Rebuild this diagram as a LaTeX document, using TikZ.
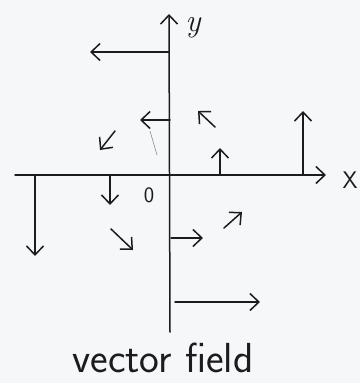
\documentclass[tikz,border=0pt]{standalone}
\usetikzlibrary{arrows.meta}
\definecolor{paper}{RGB}{246,247,249}
\definecolor{pen}{RGB}{28,28,30}
\begin{document}
\begin{tikzpicture}[x=1pt,y=-1pt,
  ink/.style={draw=pen,line width=1.5pt,line cap=round,line join=round},
  vec/.style={ink,-{Straight Barb[length=9pt,width=17pt,line width=1.5pt]}},
  lbl/.style={text=pen,inner sep=0pt}]
\fill[paper] (0,0) rectangle (360,383);
\useasboundingbox (0,0) rectangle (360,383);
% axes
\coordinate (xl) at (15,175);
\coordinate (xr) at (326,175);
\coordinate (yb) at (170,332);
\coordinate (yt) at (169,14);
\draw[vec] (xl) -- (xr);
\draw[vec] (yb) -- (yt);
\node[lbl,font=\fontsize{32}{32}\selectfont\itshape] (ylab) at (193,28) {y};
\node[lbl,font=\fontsize{24}{24}\selectfont\sffamily] (xlab) at (350,180) {X};
\node[lbl,font=\fontsize{22}{22}\selectfont\sffamily] (olab) at (149,195) {0};
% vectors above x-axis
\draw[vec] (169,52) -- (90,52);
\draw[vec] (170,120) -- (140,120);
\draw[draw=black!45,line width=0.6pt] (150,131) -- (157,155);
\draw[vec] (215,127) -- (198,111);
\draw[vec] (115,131) -- (100,150);
\draw[vec] (220,175) -- (220,148);
\draw[vec] (303,175) -- (303,111);
% vectors below x-axis
\draw[vec] (35,176) -- (35,256);
\draw[vec] (110,176) -- (110,205);
\draw[vec] (224,228) -- (242,212);
\draw[vec] (111,229) -- (133,250);
\draw[vec] (171,238) -- (203,238);
\draw[vec] (175,302) -- (260,302);
% caption
\node[lbl,font=\fontsize{42}{42}\selectfont\sffamily] (cap) at (163,358) {vector field};
\end{tikzpicture}
\end{document}
